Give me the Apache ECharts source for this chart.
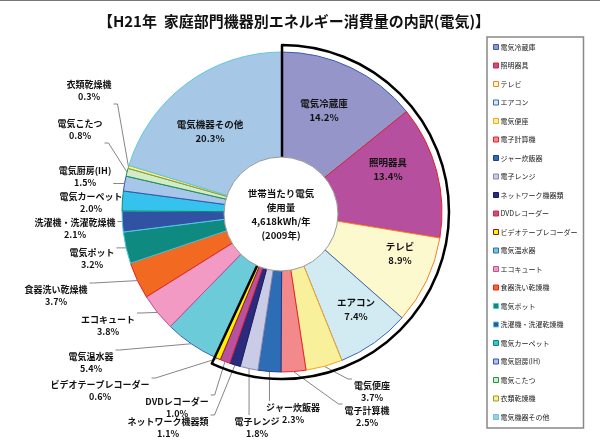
<!DOCTYPE html>
<html>
<head>
<meta charset="utf-8">
<script src="https://cdn.jsdelivr.net/npm/echarts@6/dist/echarts.min.js"></script>
<style>
html, body { margin: 0; padding: 0; background: #fff; }
#main { width: 600px; height: 442px; border-top: 1px solid #777; box-sizing: border-box; }
</style>
</head>
<body>
<div id="main"></div>
<script>
// 機器名(時計回り、上から)
var names = ['電気冷蔵庫','照明器具','テレビ','エアコン','電気便座','電子計算機','ジャー炊飯器','電子レンジ',
	'ネットワーク機器類','DVDレコーダー','ビデオテープレコーダー','電気温水器','エコキュート','食器洗い乾燥機',
	'電気ポット','洗濯機・洗濯乾燥機','電気カーペット','電気厨房(IH)','電気こたつ','衣類乾燥機','電気機器その他'];
// 割合(%)
var shares = [14.2,13.4,8.9,7.4,3.7,2.5,2.3,1.8,1.1,1.0,0.6,5.4,3.8,3.7,3.2,2.1,2.0,1.5,0.8,0.3,20.3];
// 塗り色 / 枠色
var fills = ['#9595c9','#b64f9d','#fdf9cf','#d2ebf3','#f8f09a','#f28a8c','#2c6db5','#cacbe6','#2b2b7d','#b652a0','#fff200',
	'#6ccbd9','#f39ac4','#f26a21','#0f8a80','#3151a3','#36c2ee','#a6c6ea','#d3ebc6','#f8f28a','#a7c7e7'];
var edges = ['#3a5bb5','#e8202a','#f58220','#3a66b8','#f5a623','#e8202a','#1c3d8a','#8888aa','#1a1a5e','#e8202a','#8b1a1a',
	'#3a66b8','#c0509a','#e8202a','#4cc9d6','#4cc9e6','#0b8a5a','#3a4fb0','#159a48','#9a9a30','#5ccbe0'];
// 扇形内にラベルを置く項目
var insideNames = ['電気冷蔵庫','照明器具','テレビ','エアコン','電気機器その他'];
// 黒枠で囲む項目数(冷蔵庫〜ビデオ)
var framedCount = 11;

var centerText = ['世帯当たり電気','使用量','4,618kWh/年','(2009年)'];

// ラベルの置き場所(文字ブロックの中心, px)
var labelSpots = {
	'電気冷蔵庫': [324, 109], '照明器具': [388, 168], 'テレビ': [400, 252], 'エアコン': [356, 308],
	'電気機器その他': [210, 130],
	'電気便座': [372, 391], '電子計算機': [367, 416], 'ジャー炊飯器': [293, 413], '電子レンジ': [257, 427],
	'ネットワーク機器類': [168, 427], 'DVDレコーダー': [177, 407], 'ビデオテープレコーダー': [100, 390],
	'電気温水器': [91, 362], 'エコキュート': [108, 325], '食器洗い乾燥機': [56, 295], '電気ポット': [92, 258],
	'洗濯機・洗濯乾燥機': [75, 228], '電気カーペット': [91, 202], '電気厨房(IH)': [85, 176],
	'電気こたつ': [80, 129], '衣類乾燥機': [89, 90]
};

var FONT = '"Noto Sans CJK JP", sans-serif';

var myChart = echarts.init(document.getElementById('main'));

var pieData = [];
for (var i = 0; i < names.length; i++) {
	var inside = insideNames.indexOf(names[i]) >= 0;
	pieData.push({
		name: names[i],
		value: shares[i],
		itemStyle: { color: fills[i], borderColor: edges[i], borderWidth: 1 },
		label: { position: inside ? 'inside' : 'outside', fontSize: inside ? 9.5 : 9, lineHeight: inside ? 14 : 12 },
		labelLine: { show: !inside }
	});
}

var framed = 0, rest = 0;
for (var j = 0; j < shares.length; j++) {
	if (j < framedCount) framed += shares[j]; else rest += shares[j];
}

function clamp(v, a, b) { return Math.max(a, Math.min(b, v)); }

/**
 * ラベルを所定の位置へ移し、引出し線をつなぎ直す
 */
function placeLabel(params) {
	if (params.seriesIndex !== 0) return;
	var name = names[params.dataIndex];
	var spot = labelSpots[name];
	if (!spot) return;
	var res = { x: spot[0], y: spot[1], align: 'center', verticalAlign: 'middle' };
	var pts = params.labelLinePoints;
	if (insideNames.indexOf(name) < 0 && pts && pts.length) {
		var w = params.labelRect.width, h = params.labelRect.height;
		var rx = spot[0] - w / 2 - 2, ry = spot[1] - h / 2 - 1;
		var p0 = pts[0];
		var ex = clamp(p0[0], rx, rx + w + 4);
		var ey = clamp(p0[1], ry, ry + h + 2);
		var mid = [ex, ey];
		if (ex === rx) mid = [ex - 4, ey];
		else if (ex === rx + w + 4) mid = [ex + 4, ey];
		res.labelLinePoints = [p0, mid, [ex, ey]];
	}
	return res;
}

var option = {
	animation: false,
	textStyle: { fontFamily: FONT },
	title: {
		text: '【H21年  家庭部門機器別エネルギー消費量の内訳(電気)】',
		left: 289,
		textAlign: 'center',
		top: 8,
		textStyle: { fontSize: 15, fontWeight: 'bold', color: '#111', fontFamily: FONT }
	},
	legend: {
		orient: 'vertical',
		left: 487,
		top: 36,
		padding: [5, 6, 6, 6],
		icon: 'rect',
		itemWidth: 5,
		itemHeight: 5,
		itemGap: 8.5,
		itemStyle: { borderWidth: 1 },
		borderColor: '#888',
		borderWidth: 1.5,
		textStyle: { fontFamily: FONT, fontSize: 7, lineHeight: 10, color: '#222', padding: [0, 0, 0, -3] },
		data: names
	},
	series: [{
		name: '電気',
		type: 'pie',
		center: [282, 211],
		radius: [0, 160],
		startAngle: 90,
		clockwise: true,
		avoidLabelOverlap: false,
		data: pieData,
		label: {
			color: '#111',
			fontFamily: FONT,
			fontWeight: 'bold',
			align: 'center',
			formatter: function (p) {
				return p.name + '\n' + p.value.toFixed(1) + '%';
			}
		},
		labelLine: {
			length: 12,
			length2: 8,
			lineStyle: { color: '#666', width: 0.8 }
		},
		labelLayout: placeLabel,
		emphasis: { disabled: true }
	}, {
		name: 'frame',
		type: 'pie',
		silent: true,
		center: [282, 211],
		radius: [0, 167],
		startAngle: 90,
		label: { show: false },
		labelLine: { show: false },
		data: [
			{ value: framed, itemStyle: { color: 'rgba(0,0,0,0)', borderColor: '#000', borderWidth: 2.5 } },
			{ value: rest, itemStyle: { color: 'rgba(0,0,0,0)', borderWidth: 0 } }
		]
	}, {
		name: 'center',
		type: 'pie',
		silent: true,
		center: [281, 213],
		radius: [0, 57],
		data: [{ value: 1, name: 'center' }],
		itemStyle: { color: '#fff', borderColor: '#999', borderWidth: 1 },
		labelLine: { show: false },
		label: {
			show: true,
			position: 'center',
			color: '#111',
			fontFamily: FONT,
			fontWeight: 'bold',
			fontSize: 9.5,
			lineHeight: 14,
			formatter: centerText.join('\n')
		}
	}]
};

myChart.setOption(option);
</script>
</body>
</html>
